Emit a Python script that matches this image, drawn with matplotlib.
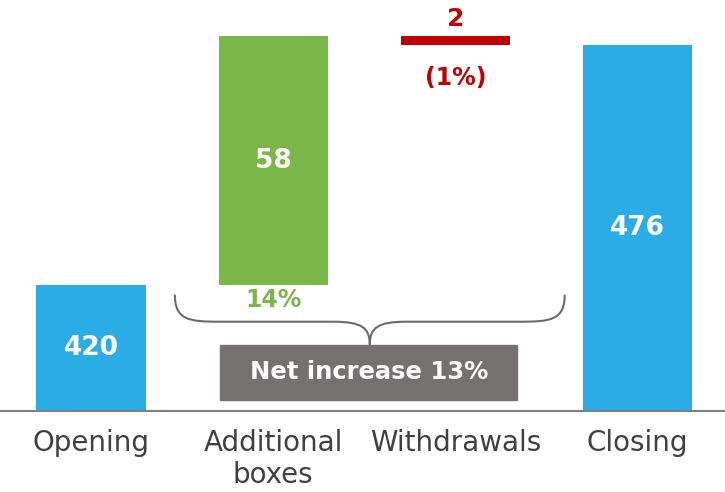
import numpy as np
import matplotlib
matplotlib.use('Agg')
import matplotlib.pyplot as plt
from matplotlib.path import Path
from matplotlib.patches import PathPatch, Rectangle

categories = ['Opening', 'Additional\nboxes', 'Withdrawals', 'Closing']
opening = 420
additions = 58
withdrawals = 2
closing = 476
add_pct = '14%'
wd_pct = '(1%)'
net_label = 'Net increase 13%'

blue = '#2AADE6'
green = '#7AB648'
red = '#C00000'
grey = '#767171'

plt.rcParams['font.family'] = ['DejaVu Sans']

fig = plt.figure(figsize=(7.25, 4.92), dpi=100)
ax = fig.add_axes([0, 0.165, 1, 0.835])

x = np.arange(len(categories))
y0 = 390.6
bottoms = [0, opening, opening + additions - withdrawals, 0]
heights = [opening, additions, withdrawals, closing]
colors = [blue, green, red, blue]
ax.bar(x, heights, bottom=bottoms, width=0.6, color=colors, zorder=2)

ax.set_xlim(-0.5, 3.48)
ax.set_ylim(y0, 486.5)

# value labels
ax.text(x[0], (y0 + opening) / 2, str(opening), color='w', fontsize=19, fontweight='bold', ha='center', va='center')
ax.text(x[1], opening + additions / 2, str(additions), color='w', fontsize=19, fontweight='bold', ha='center', va='center')
ax.text(x[3], (y0 + closing) / 2, str(closing), color='w', fontsize=19, fontweight='bold', ha='center', va='center')
ax.text(x[1], opening - 3.5, add_pct, color=green, fontsize=17, fontweight='bold', ha='center', va='center')
ax.text(x[2], opening + additions + 4.0, str(withdrawals), color=red, fontsize=18, fontweight='bold', ha='center', va='center')
ax.text(x[2], opening + additions - 9.7, wd_pct, color=red, fontsize=17, fontweight='bold', ha='center', va='center')

# brace
xl, xr, xc = 0.46, 2.6, 1.53
yt, ym, yb = 417.7, 411.4, 406.0
verts = [(xl, yt), (xl, ym + 0.3), (xl + 0.08, ym), (xl + 0.25, ym),
         (xc - 0.2, ym),
         (xc - 0.04, ym), (xc, ym - 1.5), (xc, yb),
         (xc, ym - 1.5), (xc + 0.04, ym), (xc + 0.2, ym),
         (xr - 0.25, ym),
         (xr - 0.08, ym), (xr, ym + 0.3), (xr, yt)]
codes = [Path.MOVETO, Path.CURVE4, Path.CURVE4, Path.CURVE4,
         Path.LINETO,
         Path.CURVE4, Path.CURVE4, Path.CURVE4,
         Path.CURVE4, Path.CURVE4, Path.CURVE4,
         Path.LINETO,
         Path.CURVE4, Path.CURVE4, Path.CURVE4]
ax.add_patch(PathPatch(Path(verts, codes), fill=False, ec='#6d6b6a', lw=1.5, zorder=3))

ax.add_patch(Rectangle((0.71, 393.2), 1.63, 12.8, color=grey, zorder=3))
ax.text(1.525, 399.6, net_label, color='w', fontsize=17.5, fontweight='bold', ha='center', va='center', zorder=4)

ax.set_xticks(x)
ax.set_xticklabels(categories, fontsize=20, color='#404040', linespacing=1.2)
ax.tick_params(axis='x', length=0, pad=13)
ax.set_yticks([])
for spi in ['top', 'left', 'right']:
    ax.spines[spi].set_visible(False)
ax.spines['bottom'].set_color('#7f7f7f')
ax.spines['bottom'].set_linewidth(1.5)

plt.savefig('out.png', dpi=100)
